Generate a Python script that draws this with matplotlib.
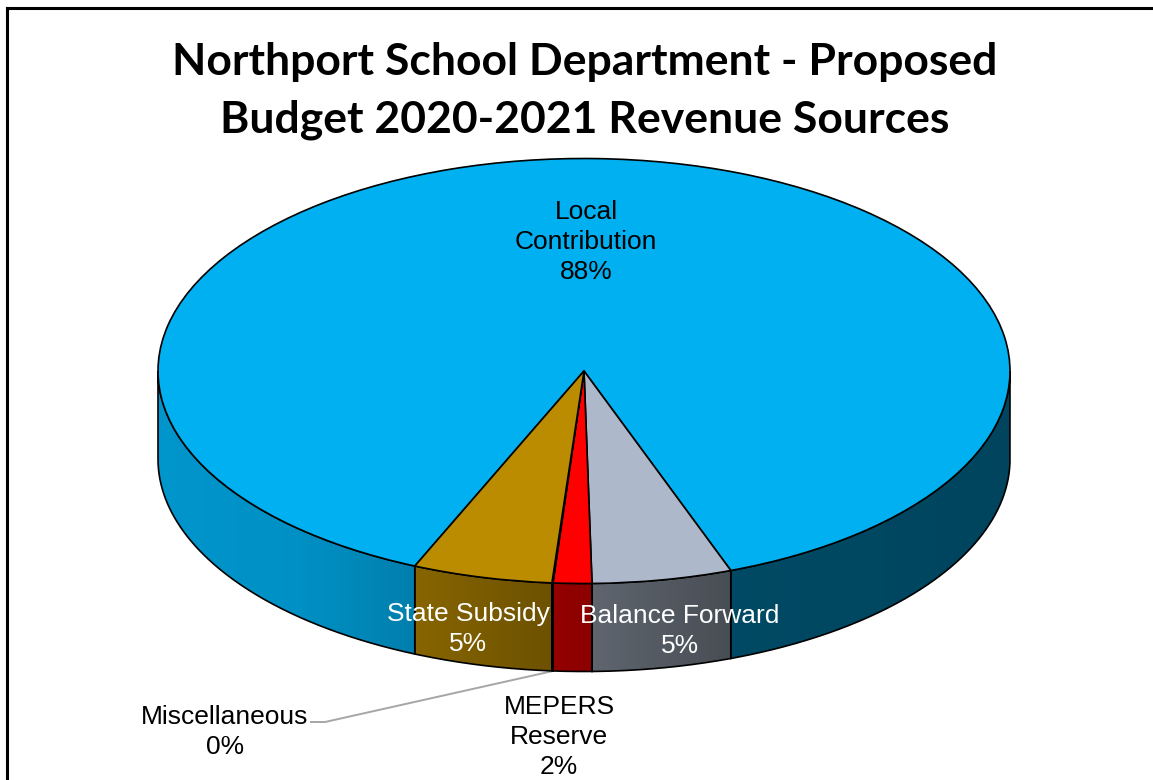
import matplotlib
matplotlib.use("Agg")
import matplotlib.pyplot as plt
from matplotlib.colors import to_rgb
from matplotlib.lines import Line2D
from matplotlib.path import Path
from matplotlib.patches import PathPatch
import numpy as np

# clockwise from the state/local boundary
categories = ["Local Contribution", "Balance Forward", "MEPERS Reserve", "Miscellaneous", "State Subsidy"]
shares = [87.9, 5.3, 1.46, 0.04, 5.3]
colors = ["#00B0F0", "#ADB9CA", "#FF0000", "#A5A5A5", "#BB8C00"]

title_text = "Northport School Department - Proposed\nBudget 2020-2021 Revenue Sources"
label_text = ["Local\nContribution\n88%", "Balance Forward\n5%", "MEPERS\nReserve\n2%", "Miscellaneous\n0%", "State Subsidy\n5%"]
label_color = ["black", "white", "black", "black", "white"]

# side wall darkening across the pie (pixel x -> factor)
shade_x = [158, 300, 415, 553, 592, 730, 1010]
shade_v = [0.85, 0.82, 0.72, 0.58, 0.55, 0.42, 0.39]

W, H = 1153, 780
cx, cy, rx, ry = 584, 371, 426, 212.5
depth = 88 / ry


def px(x):
    return (x - cx) / rx


def py(y):
    return (cy - y) / ry


fig = plt.figure(figsize=(W / 100, H / 100), dpi=100, facecolor="white")
ax = fig.add_axes([0, 0, 1, 1])

wedges, _ = ax.pie(shares, colors=colors, startangle=-113.4, counterclock=False,
                   wedgeprops=dict(edgecolor="black", linewidth=1.2, zorder=5))
ax.set_aspect("auto")

# side walls
xgrid = np.linspace(-1, 1, 800)
shade = np.interp(cx + rx * xgrid, shade_x, shade_v)
for w, c in zip(wedges, colors):
    for k in (-720, -360, 0):
        a = max(w.theta1, 180 + k)
        b = min(w.theta2, 360 + k)
        if b <= a:
            continue
        t = np.radians(np.linspace(a, b, 200))
        xs = np.cos(t)
        ys = np.sin(t)
        verts = np.concatenate([np.column_stack([xs, ys]),
                                np.column_stack([xs[::-1], ys[::-1] - depth])])
        verts = np.vstack([verts, verts[0]])
        edge = PathPatch(Path(verts), facecolor="none", edgecolor="black", linewidth=1.2, zorder=3)
        ax.add_patch(edge)
        img = np.outer(shade, to_rgb(c)).reshape(1, -1, 3)
        im = ax.imshow(img, extent=(-1, 1, -2, 2), aspect="auto", zorder=2, interpolation="bilinear")
        im.set_clip_path(PathPatch(Path(verts), transform=ax.transData))

ax.set_xlim(px(0), px(W))
ax.set_ylim(py(H), py(0))
ax.axis("off")

# texts
font = ["Liberation Sans", "DejaVu Sans"]
fs = 19
spots = [(586, 242), (680, 631), (559, 737), (225, 732), (468, 629)]
for txt, col, (x, y) in zip(label_text, label_color, spots):
    ax.text(px(x), py(y), txt, color=col, ha="center", va="center", fontsize=fs,
            family=font, linespacing=1.3, zorder=8)

ax.plot([px(311), px(325), px(553)], [py(722), py(722), py(671)], color="#A6A6A6",
        linewidth=1.4, zorder=1, solid_joinstyle="round")

fig.text(585 / W, 1 - 91 / H, title_text, ha="center", va="center", fontsize=32,
         family=["Lato", "DejaVu Sans"], fontweight="bold", color="black", linespacing=1.53)

# outer frame, only top and left show
fig.add_artist(Line2D([7 / W, 1], [1 - 8 / H, 1 - 8 / H], color="black", linewidth=2.2))
fig.add_artist(Line2D([7 / W, 7 / W], [0, 1 - 8 / H], color="black", linewidth=2.2))

fig.savefig("out.png", dpi=100)
